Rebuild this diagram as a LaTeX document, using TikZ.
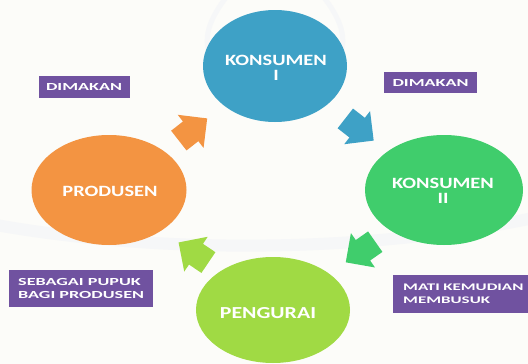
\documentclass[tikz,border=0pt]{standalone}
\usepackage{fontspec}
\setmainfont{Carlito}
\newfontfamily\ellfont[FakeStretch=1.3]{Carlito}
\newfontfamily\lblfont[FakeStretch=1.68]{Carlito}
\usetikzlibrary{shapes.geometric}
\definecolor{bgc}{RGB}{252,252,249}
\definecolor{wm}{RGB}{246,247,248}
\definecolor{cblue}{RGB}{62,161,198}
\definecolor{corange}{RGB}{243,148,66}
\definecolor{cgreen}{RGB}{64,205,108}
\definecolor{clime}{RGB}{160,218,68}
\definecolor{cpurple}{RGB}{112,82,160}
\tikzset{
  blob/.style={ellipse, inner sep=0pt, text=white,
    font=\ellfont\bfseries\fontsize{15.7}{15}\selectfont, align=center},
  tag/.style={fill=cpurple, text=white, inner ysep=0pt,
    font=\lblfont\bfseries\fontsize{10.8}{13.5}\selectfont},
}
\newcommand\blkarrow[3]{%
  \begin{scope}[shift={#1}, rotate=#2]
    \fill[#3] (-18,-12.5) -- (-3,-12.5) -- (-3,-21) -- (18,0) -- (-3,21) -- (-3,12.5) -- (-18,12.5) -- cycle;
  \end{scope}}
\begin{document}
\begin{tikzpicture}[x=1pt,y=-1pt]
\useasboundingbox (0,0) rectangle (528,364);
\clip (0,0) rectangle (528,364);
\fill[bgc] (0,0) rectangle (528,364);
% faint background swooshes
\draw[wm, line width=12pt] (-20,222) .. controls (150,255) and (380,255) .. (560,212);
\draw[wm, line width=5pt] (232,-10) .. controls (207,20) and (202,40) .. (212,60);
\draw[wm, line width=5pt] (318,-10) .. controls (343,20) and (348,40) .. (338,60);

% ellipses
\node[blob, fill=cblue, minimum width=144pt, minimum height=112pt] (k1) at (275,66) {};
\node[blob, fill=corange, minimum width=155pt, minimum height=110pt] (pr) at (109,190) {};
\node[blob, fill=cgreen, minimum width=158pt, minimum height=110pt] (k2) at (444,190) {};
\node[blob, fill=clime, minimum width=154pt, minimum height=106pt] (pg) at (273,310) {};

\node[blob] (t1) at (276,68) {KONSUMEN\\I};
\node[blob] (t2) at (443,191) {KONSUMEN\\II};
\node[blob] (t3) at (110,191) {PRODUSEN};
\node[blob, font=\ellfont\bfseries\fontsize{16.8}{15}\selectfont] (t4) at (268,313) {PENGURAI};

% block arrows
\blkarrow{(193,129.5)}{38}{corange}
\blkarrow{(359.5,129.5)}{-38}{cblue}
\blkarrow{(360.5,252)}{-145}{cgreen}
\blkarrow{(193.5,252.5)}{146}{clime}

% labels
\node[tag, minimum width=91pt, minimum height=22pt] (d1) at (84,87) {DIMAKAN};
\node[tag, minimum width=93pt, minimum height=21pt] (d2) at (430.5,82.5) {DIMAKAN};
\node[tag, anchor=west, inner xsep=9pt, minimum height=37pt, align=left] (d3) at (9,288.5) {SEBAGAI PUPUK\\BAGI PRODUSEN};
\node[tag, anchor=west, inner xsep=10pt, minimum height=38pt, text width=135pt, align=left,
  font=\lblfont\bfseries\fontsize{10.1}{13.5}\selectfont] (d4) at (393,294) {MATI KEMUDIAN\\MEMBUSUK};
\end{tikzpicture}
\end{document}
